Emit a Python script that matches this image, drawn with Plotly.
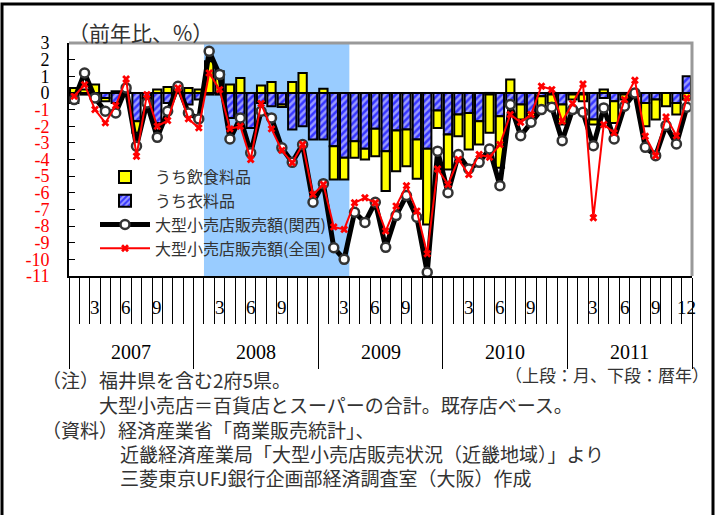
import plotly.graph_objects as go

# ---------------- data ----------------
years = ["2007", "2008", "2009", "2010", "2011"]
month_labels = (["", "", "3", "", "", "6", "", "", "9", "", "", ""] * 4
                + ["", "", "3", "", "", "6", "", "", "9", "", "", "12"])

kansai = [-0.4, 1.2, -0.3, -1.1, -1.2, 0.3, -3.2, -0.6, -2.67, -1.1, 0.4, -1.2,
          -1.56, 2.5, 1.1, -2.77, -1.5, -3.6, -1.1, -1.5, -3.3, -4.17, -3.1, -6.57,
          -5.45, -9.3, -10.0, -7.17, -7.78, -6.57, -9.28, -7.37, -6.17, -7.47, -10.78, -3.5,
          -6.0, -3.7, -4.57, -4.17, -3.37, -5.57, -0.7, -2.57, -1.76, -1.0, -0.86, -2.87,
          -1.0, -1.16, -3.17, -0.9, -2.77, -0.8, 0.0, -3.27, -3.77, -1.96, -3.07, -0.86]

zenkoku = [-0.2, 0.5, -1.0, -1.8, -0.76, 0.84, -3.8, -0.1, -2.0, -1.66, 0.3, -1.56,
           -2.1, 1.2, 0.2, -2.16, -2.0, -4.0, -0.64, -2.16, -3.45, -4.2, -3.1, -6.1,
           -5.5, -8.05, -8.2, -6.6, -6.3, -6.6, -8.3, -6.8, -5.57, -7.1, -9.66, -4.57,
           -5.5, -4.0, -4.9, -3.7, -3.87, -3.1, -1.3, -1.76, -1.3, 0.4, 0.2, -1.7,
           -0.64, 0.54, -7.5, -1.9, -2.4, -0.4, 0.76, -2.6, -3.77, -1.44, -2.57, -0.3]

food = [0.3, 0.2, 0.5, -0.2, 0.1, 0.1, -0.7, -0.1, 0.2, 0.35, 0.35, 0.3,
        0.2, 1.9, 1.3, 0.5, 0.9, 0.0, 0.45, 0.65, -0.15, 0.65, 1.2, 0.0,
        0.25, -2.0, -1.3, -1.0, -0.65, -1.65, -2.4, -2.45, -2.2, -2.35, -4.55, -1.05,
        -2.1, -1.3, -2.2, -1.4, -2.3, -3.1, 0.8, -0.9, -0.2, -0.6, -0.5, -1.2,
        -0.3, -0.4, -0.3, 0.2, -1.3, -0.3, -0.1, -1.4, -1.2, -0.8, -0.7, -0.4]

clothing = [-0.6, -0.1, -0.3, -0.3, -0.6, 0.0, -1.7, -0.3, -1.8, -0.6, 0.0, -0.7,
            -0.4, -0.1, -0.1, -1.5, -1.3, -2.1, -0.6, -0.8, -0.7, -2.2, -2.0, -2.8,
            -2.8, -3.2, -3.9, -2.9, -3.35, -2.15, -3.5, -2.25, -2.2, -2.8, -3.35, -1.05,
            -2.5, -1.3, -1.2, -1.7, -0.1, -1.4, -0.6, -0.7, -1.2, -0.2, -0.1, -0.7,
            -0.1, -0.1, -1.6, -0.3, -0.5, -0.1, -0.1, -0.6, -0.4, 0.0, -0.6, 1.0]

recession_months = ("2008-02", "2009-03")
ytick_vals = list(range(3, -12, -1))

# ---------------- helpers ----------------
months = [f"{y}-{m:02d}" for y in years for m in range(1, 13)]
x = list(range(len(months)))
n = len(x)

JP = "Noto Sans CJK JP"
SERIF = "Liberation Serif"

# pixel -> paper helpers for annotations outside plot area
L, R, T, B = 69, 692, 43, 276
def px(xp):
    return (xp - L) / (R - L)
def py(yp):
    return (B - yp) / (B - T)

fig = go.Figure()

fig.add_bar(x=x, y=clothing, name="うち衣料品", legendrank=2,
            marker=dict(color="#3535ff", line=dict(color="black", width=2),
                        pattern=dict(shape="/", fgcolor="white", bgcolor="#3535ff",
                                     size=5, solidity=0.5)))
fig.add_bar(x=x, y=food, name="うち飲食料品", legendrank=1,
            marker=dict(color="#ffff00", line=dict(color="black", width=2)))
fig.add_scatter(x=x, y=kansai, mode="lines+markers", name="大型小売店販売額(関西)", legendrank=3,
                line=dict(color="black", width=5),
                marker=dict(symbol="circle", size=9, color="white",
                            line=dict(color="#333333", width=2.5)))
fig.add_scatter(x=x, y=zenkoku, mode="lines+markers", name="大型小売店販売額(全国)", legendrank=4,
                line=dict(color="red", width=2),
                marker=dict(symbol="x", size=7, color="red"))

# recession shading
r0 = months.index(recession_months[0]) - 0.5
r1 = months.index(recession_months[1]) + 0.5
fig.add_vrect(x0=r0, x1=r1, fillcolor="#99ccff", opacity=1, line_width=0, layer="below")

# top/right gray frame
fig.add_shape(type="path", xref="paper", yref="paper",
              path="M0,1 L1,1 L1,0", line=dict(color="#999999", width=3), layer="above")
# outer black border
fig.add_shape(type="rect", xref="paper", yref="paper",
              x0=px(2), x1=px(713), y0=py(4), y1=py(540),
              line=dict(color="black", width=3), layer="above")

ticktext = []
for v in ytick_vals:
    if v < 0:
        ticktext.append(f"<span style='color:red'>{v}</span>")
    else:
        ticktext.append(str(v))

year_bounds = [i * 12 - 0.5 for i in range(len(years) + 1)]

fig.update_layout(
    width=720, height=515,
    margin=dict(l=L, r=720 - R, t=T, b=515 - B),
    paper_bgcolor="white", plot_bgcolor="white",
    barmode="relative", bargap=0.2,
    legend=dict(x=px(95), y=py(160), xanchor="left", yanchor="top",
                bgcolor="rgba(0,0,0,0)", font=dict(family=JP, size=16, color="#333333"),
                itemwidth=50, traceorder="normal"),
    xaxis=dict(range=[-0.5, n - 0.5], showgrid=False, zeroline=False,
               showline=True, linecolor="black", linewidth=2,
               tickmode="array", tickvals=year_bounds, ticks="outside", ticklen=91,
               tickcolor="black", tickwidth=1, showticklabels=False,
               minor=dict(tickmode="linear", tick0=-0.5, dtick=1, ticks="outside",
                          ticklen=46, tickcolor="black", tickwidth=1)),
    yaxis=dict(range=[-11, 3], tickmode="array", tickvals=ytick_vals, ticktext=ticktext,
               ticks="inside", ticklen=6, tickcolor="black", showgrid=False,
               zeroline=True, zerolinecolor="black", zerolinewidth=1.5,
               showline=True, linecolor="black", linewidth=2,
               tickfont=dict(family=SERIF, size=18, color="black"), ticklabelstandoff=14),
)

ann = []
for i, lab in enumerate(month_labels):
    if lab:
        ann.append(dict(x=i, y=py(307), xref="x", yref="paper", text=lab, showarrow=False,
                        xanchor="center", yanchor="middle",
                        font=dict(family=SERIF, size=19, color="black")))
for k, yr in enumerate(years):
    ann.append(dict(x=k * 12 + 5.5, y=py(352), xref="x", yref="paper", text=yr, showarrow=False,
                    xanchor="center", yanchor="middle",
                    font=dict(family=SERIF, size=20, color="black")))

ann.append(dict(x=px(66), y=py(32), xref="paper", yref="paper", text="（前年比、%）",
                showarrow=False, xanchor="left", yanchor="middle",
                font=dict(family=JP, size=21, color="#333333")))
ann.append(dict(x=px(711), y=py(374), xref="paper", yref="paper", text="（上段：月、下段：暦年）",
                showarrow=False, xanchor="right", yanchor="middle",
                font=dict(family=JP, size=17, color="#333333")))

notes = [
    (40, 379, "（注）福井県を含む2府5県。"),
    (97, 404, "大型小売店＝百貨店とスーパーの合計。既存店ベース。"),
    (40, 429, "（資料）経済産業省「商業販売統計」、"),
    (118, 453, "近畿経済産業局「大型小売店販売状況（近畿地域）」より"),
    (118, 477, "三菱東京UFJ銀行企画部経済調査室（大阪）作成"),
]
for xx, yy, t in notes:
    ann.append(dict(x=px(xx), y=py(yy), xref="paper", yref="paper", text=t, showarrow=False,
                    xanchor="left", yanchor="middle",
                    font=dict(family=JP, size=19, color="#333333")))

fig.update_layout(annotations=ann)
fig.write_html("out.html", config={"displayModeBar": False},
               post_script="document.body.style.margin='0';document.body.style.overflow='hidden';")
